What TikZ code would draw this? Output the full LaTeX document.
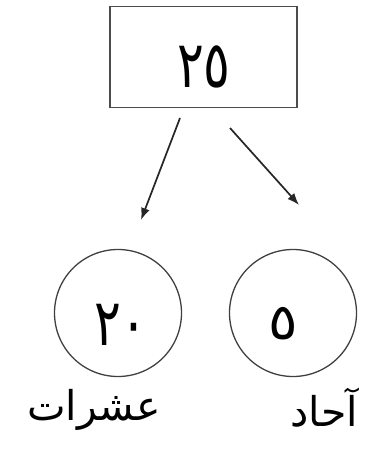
\documentclass[tikz,border=0pt]{standalone}
\usepackage{fontspec}
\newfontfamily\arabicfont[Script=Arabic]{DejaVu Sans}
\TeXXeTstate=1
\usetikzlibrary{arrows.meta}
\newcommand{\tallnum}[1]{\scalebox{1}[1.3]{#1}}
\begin{document}
\begin{tikzpicture}[x=1pt,y=-1pt,
  numbox/.style={draw=black!70,line width=1.6pt,minimum width=187pt,minimum height=101pt,inner sep=0pt},
  digitcircle/.style={draw=black!75,line width=1.3pt,circle,minimum size=127pt,inner sep=0pt},
  bigtext/.style={font=\arabicfont\fontsize{50}{54}\selectfont,inner sep=0pt},
  labeltext/.style={font=\arabicfont\fontsize{41}{44}\selectfont,inner sep=0pt},
  arr/.style={-{Latex[length=12pt,width=9pt]},line width=1.7pt,draw=black!85}]
\useasboundingbox (0,0) rectangle (374,452);
\fill[white] (0,0) rectangle (374,452);
\node[numbox] (top) at (203.5,57) {};
\node[bigtext] (topnum) at (204,67) {\tallnum{٢٥}};
\node[digitcircle] (tens) at (118,313) {};
\node[bigtext] (tensnum) at (121,325) {\tallnum{٢٠}};
\node[digitcircle] (units) at (293,313) {};
\node[bigtext] (unitsnum) at (283,324) {\scalebox{1.1}[1]{٥}};
\node[labeltext] (tenslabel) at (94,410) {\beginR عشرات\endR};
\node[labeltext] (unitslabel) at (324,408) {\beginR آحاد\endR};
\coordinate (a1s) at (180,118);
\coordinate (a1e) at (141,220);
\coordinate (a2s) at (230,128);
\coordinate (a2e) at (299,205);
\draw[arr] (a1s) -- (a1e);
\draw[arr] (a2s) -- (a2e);
\end{tikzpicture}
\end{document}
